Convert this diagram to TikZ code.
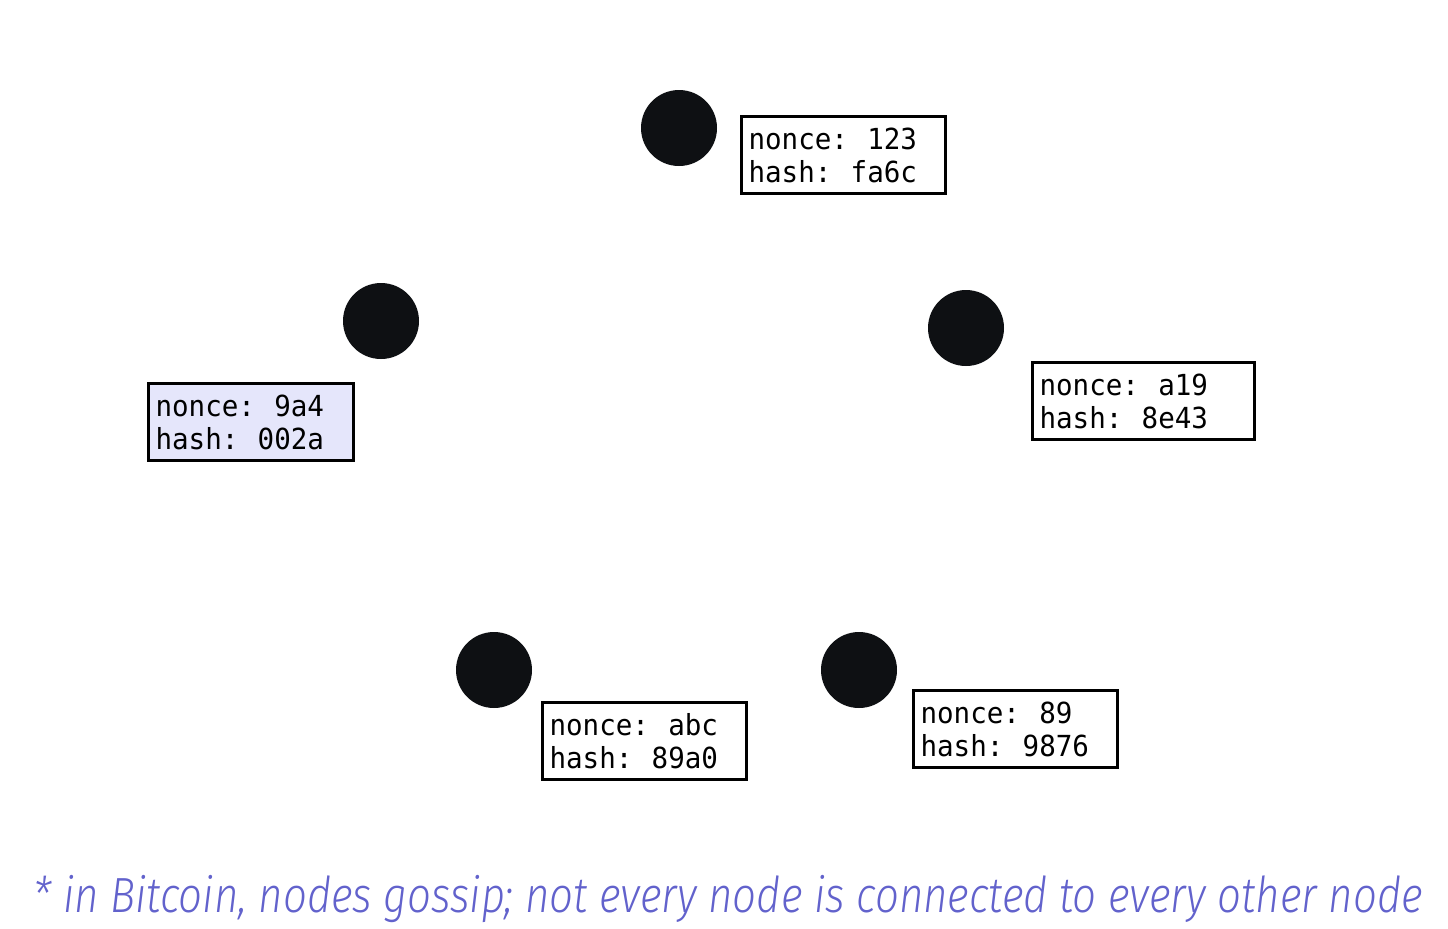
\documentclass[tikz,border=0pt]{standalone}
\usepackage{fontspec}
\newfontfamily\boxfont{DejaVu Sans Mono}[FakeStretch=0.95]
\newfontfamily\notefont{Fira Sans Light Italic}[FakeStretch=0.85]
\definecolor{dotblack}{RGB}{14,16,19}
\definecolor{winfill}{RGB}{229,230,251}
\definecolor{notecolor}{RGB}{98,98,204}

\begin{document}
\begin{tikzpicture}
[every node/.style={inner sep=0pt},
 peer/.style={circle, minimum size=38pt, fill=dotblack},
 infobox/.style={anchor=north west, inner sep=3.5pt, minimum height=38.5pt, line width=1.5pt, draw=black, fill=white, align=left, font=\boxfont\fontsize{14.5pt}{16.5pt}\selectfont}]
\useasboundingbox (0pt, 0pt) rectangle (724pt, -464pt);
\node (1) [peer] at (339.5pt, -64.0pt) {};
\node (2) [peer] at (190.5pt, -160.5pt) {};
\node (3) [peer] at (483.0pt, -164.0pt) {};
\node (4) [peer] at (247.0pt, -335.0pt) {};
\node (5) [peer] at (429.5pt, -335.0pt) {};
\node (t1) [infobox, text width=95pt] at (370.0pt, -57.5pt) {nonce:\ \ 123\\hash:\ \ fa6c};
\node (t2) [infobox, text width=95.5pt, fill=winfill] at (73.5pt, -191.0pt) {nonce:\ \ 9a4\\hash:\ \ 002a};
\node (t3) [infobox, text width=104pt] at (515.5pt, -180.5pt) {nonce:\ \ a19\\hash:\ \ 8e43};
\node (t4) [infobox, text width=95pt] at (270.5pt, -350.5pt) {nonce:\ \ abc\\hash:\ \ 89a0};
\node (t5) [infobox, text width=95pt] at (456.0pt, -344.5pt) {nonce:\ \ 89\\hash:\ \ 9876};
\node (note) [anchor=base west, text=notecolor, font=\notefont\fontsize{24.7pt}{28pt}\selectfont] at (16.5pt, -456.0pt) {* in Bitcoin, nodes gossip; not every node is connected to every other node};
\end{tikzpicture}
\end{document}
